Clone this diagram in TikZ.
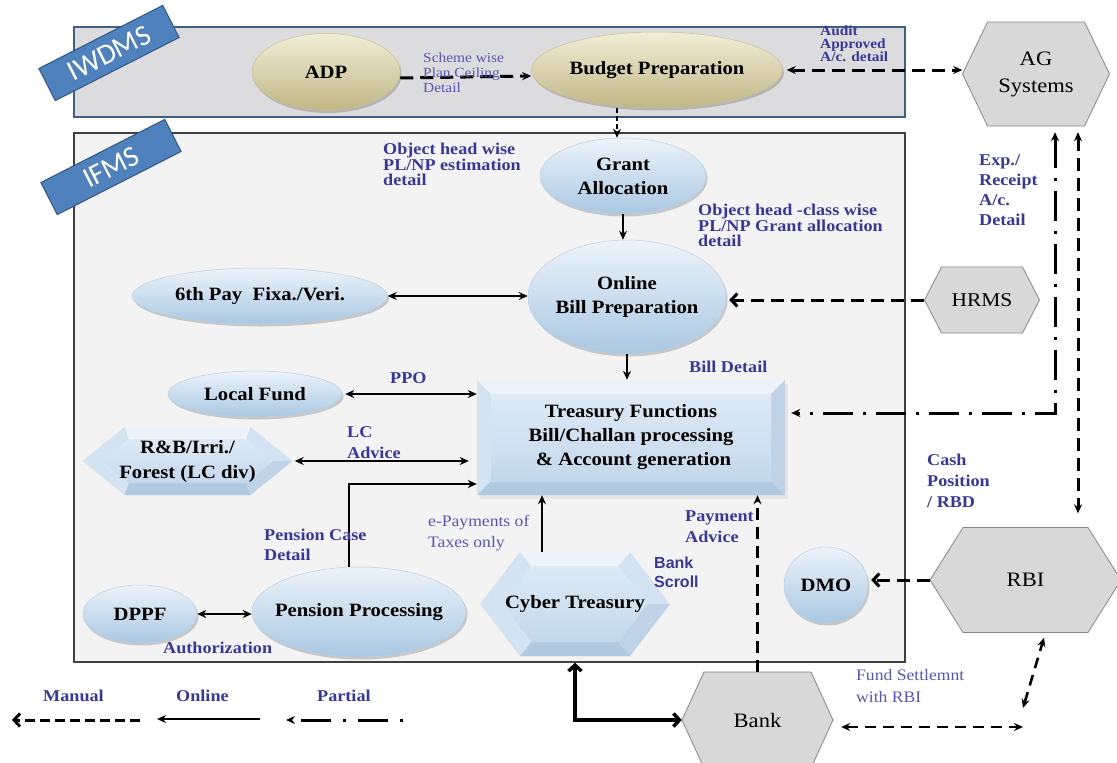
\documentclass[tikz,border=0pt]{standalone}
\usepackage{fontspec}
\setmainfont{Liberation Serif}[FakeStretch=1.1]
\newfontfamily\lsans{Liberation Sans}
\newfontfamily\tagfnt{Carlito}
\usetikzlibrary{arrows.meta,shapes.geometric,shadows}
\setlength{\lineskiplimit}{-20pt}
\definecolor{lblue}{RGB}{58,56,150}
\definecolor{rblue}{RGB}{88,86,180}
\definecolor{hexgray}{RGB}{216,216,216}
\definecolor{hexline}{RGB}{135,135,135}
\definecolor{iwbg}{RGB}{220,220,222}
\definecolor{iwline}{RGB}{62,96,135}
\definecolor{ifbg}{RGB}{243,243,243}
\definecolor{tagblue}{RGB}{79,129,189}
\definecolor{tagline}{RGB}{50,85,130}
\definecolor{eltop}{RGB}{236,243,250}
\definecolor{elmid}{RGB}{212,228,242}
\definecolor{elbot}{RGB}{170,200,226}
\definecolor{elline}{RGB}{185,208,228}
\definecolor{khtop}{RGB}{242,238,214}
\definecolor{khmid}{RGB}{226,219,184}
\definecolor{khbot}{RGB}{192,182,134}
\definecolor{khline}{RGB}{200,192,150}
\definecolor{bvtopc}{RGB}{236,243,250}
\definecolor{bvsidec}{RGB}{212,227,241}
\definecolor{bvrightc}{RGB}{192,211,230}
\definecolor{bvbotc}{RGB}{178,202,225}
\definecolor{bvfacetop}{RGB}{222,234,246}
\definecolor{bvfacebot}{RGB}{196,216,235}
\newcommand\plainhex[5]{%
  \pgfmathsetmacro\hxL{#1-#3/2}\pgfmathsetmacro\hxR{#1+#3/2}%
  \pgfmathsetmacro\hyT{#2-#4/2}\pgfmathsetmacro\hyB{#2+#4/2}%
  \pgfmathsetmacro\hxTL{\hxL+#5}\pgfmathsetmacro\hxTR{\hxR-#5}%
  \draw[hexstyle] (\hxL,#2) -- (\hxTL,\hyT) -- (\hxTR,\hyT) -- (\hxR,#2) -- (\hxTR,\hyB) -- (\hxTL,\hyB) -- cycle;}
\newcommand\bevelhex[6]{%
  \pgfmathsetmacro\hxL{#1-#3/2}\pgfmathsetmacro\hxR{#1+#3/2}%
  \pgfmathsetmacro\hyT{#2-#4/2}\pgfmathsetmacro\hyB{#2+#4/2}%
  \pgfmathsetmacro\hxTL{\hxL+#5}\pgfmathsetmacro\hxTR{\hxR-#5}%
  \pgfmathsetmacro\ip{#5*(#4-2*#6)/#4}%
  \pgfmathsetmacro\ixL{\hxL+1.6*#6}\pgfmathsetmacro\ixR{\hxR-1.6*#6}%
  \pgfmathsetmacro\iyT{\hyT+#6}\pgfmathsetmacro\iyB{\hyB-#6}%
  \pgfmathsetmacro\ixTL{\ixL+\ip}\pgfmathsetmacro\ixTR{\ixR-\ip}%
  \fill[bvsidec] (\hxL,#2) -- (\hxTL,\hyT) -- (\hxTR,\hyT) -- (\hxR,#2) -- (\hxTR,\hyB) -- (\hxTL,\hyB) -- cycle;
  \fill[bvtopc] (\hxTL,\hyT) -- (\hxTR,\hyT) -- (\ixTR,\iyT) -- (\ixTL,\iyT) -- cycle;
  \fill[bvbotc] (\hxTR,\hyB) -- (\hxTL,\hyB) -- (\ixTL,\iyB) -- (\ixTR,\iyB) -- cycle;
  \fill[bvrightc] (\hxR,#2) -- (\hxTR,\hyB) -- (\ixTR,\iyB) -- (\ixR,#2) -- cycle;
  \shade[top color=bvfacetop, bottom color=bvfacebot] (\ixL,#2) -- (\ixTL,\iyT) -- (\ixTR,\iyT) -- (\ixR,#2) -- (\ixTR,\iyB) -- (\ixTL,\iyB) -- cycle;}
\newcommand\bevelrect[5]{%
  \pgfmathsetmacro\hxL{#1-#3/2}\pgfmathsetmacro\hxR{#1+#3/2}%
  \pgfmathsetmacro\hyT{#2-#4/2}\pgfmathsetmacro\hyB{#2+#4/2}%
  \pgfmathsetmacro\ixL{\hxL+#5}\pgfmathsetmacro\ixR{\hxR-#5}%
  \pgfmathsetmacro\iyT{\hyT+#5}\pgfmathsetmacro\iyB{\hyB-#5}%
  \fill[black!20, opacity=.35] (\hxL+3,\hyT+4) rectangle (\hxR+3,\hyB+4);
  \fill[bvsidec] (\hxL,\hyT) rectangle (\hxR,\hyB);
  \fill[bvtopc] (\hxL,\hyT) -- (\hxR,\hyT) -- (\ixR,\iyT) -- (\ixL,\iyT) -- cycle;
  \fill[bvbotc] (\hxL,\hyB) -- (\hxR,\hyB) -- (\ixR,\iyB) -- (\ixL,\iyB) -- cycle;
  \fill[bvrightc] (\hxR,\hyT) -- (\hxR,\hyB) -- (\ixR,\iyB) -- (\ixR,\iyT) -- cycle;
  \shade[top color=bvfacetop, bottom color=bvfacebot] (\ixL,\iyT) rectangle (\ixR,\iyB);}
\begin{document}
\begin{tikzpicture}[x=1pt,y=-1pt,
  hexstyle/.style={fill=hexgray, draw=hexline, line width=0.8pt},
  ntext/.style={font=\bfseries\fontsize{18.8}{24}\selectfont, align=center, inner sep=0pt},
  htext/.style={font=\fontsize{20.5}{27}\selectfont, align=center, inner sep=0pt},
  bell/.style={ntext, ellipse, inner sep=-25pt, draw=elline, line width=0.5pt,
    top color=eltop, middle color=elmid, bottom color=elbot,
    drop shadow={shadow xshift=1.5pt, shadow yshift=-2.5pt, opacity=.18, fill=black}},
  kell/.style={ntext, ellipse, inner sep=-25pt, draw=khline, line width=0.5pt,
    top color=khtop, middle color=khmid, bottom color=khbot,
    drop shadow={shadow xshift=1.5pt, shadow yshift=-2.5pt, opacity=.18, fill=black}},
  tagbox/.style={fill=tagblue, draw=tagline, line width=1pt, minimum width=139pt,
    minimum height=36pt, inner sep=0pt, text=white, font=\tagfnt\fontsize{29}{29}\selectfont},
  lbl/.style={font=\bfseries\fontsize{16.5}{15.5}\selectfont, text=lblue, align=left, inner sep=0pt, anchor=north west},
  rlbl/.style={font=\fontsize{16}{21}\selectfont, text=rblue, align=left, inner sep=0pt, anchor=north west},
  tri/.tip={Stealth[length=9pt,width=8pt]},
  barb/.tip={Straight Barb[length=6pt,width=13pt]},
  solidc/.style={line width=2pt},
  thinc/.style={line width=1.3pt},
  dashedc/.style={line width=3pt, dash pattern=on 13pt off 7pt},
  dashdotc/.style={line width=3pt, dash pattern=on 30pt off 10pt on 3pt off 10pt}]
\useasboundingbox (0,0) rectangle (1117,763);
\fill[white] (0,0) rectangle (1117,763);

% frames
\node[draw=iwline, line width=2.2pt, fill=iwbg, minimum width=831pt, minimum height=90pt, inner sep=0pt] (iwdms) at (489.5,72) {};
\node[draw=black!75, line width=1.5pt, fill=ifbg, minimum width=831pt, minimum height=529pt, inner sep=0pt] (ifms) at (489.5,397.5) {};
\node[tagbox, rotate=27] (iwtag) at (109,53) {IWDMS};
\node[tagbox, rotate=27] (iftag) at (111,167) {IFMS};

% ellipses
\node[kell, minimum width=148pt, minimum height=77pt] (adp) at (326,72) {ADP};
\node[kell, minimum width=251pt, minimum height=76pt] (bp) at (657,70) {Budget Preparation};
\node[bell, minimum width=166pt, minimum height=76pt] (grant) at (623,176) {Grant\\Allocation};
\node[bell, minimum width=198pt, minimum height=114pt] (obp) at (627,297) {Online\\Bill Preparation};
\node[bell, minimum width=255pt, minimum height=56pt] (six) at (260,296) {6th Pay\ \ Fixa./Veri.};
\node[bell, minimum width=174pt, minimum height=46pt] (lf) at (255,394) {Local Fund};
\node[bell, minimum width=114pt, minimum height=58pt] (dppf) at (140,614) {DPPF};
\node[bell, minimum width=214pt, minimum height=90pt] (pp) at (359,612) {Pension Processing};
\node[bell, minimum width=84pt, minimum height=76pt] (dmo) at (826,585) {DMO};

% bevelled shapes
\bevelrect{631}{437.5}{308}{115}{14}
\node[ntext, minimum width=308pt, minimum height=115pt] (tf) at (631,437.5) {Treasury Functions\\Bill/Challan processing\\\ \&~Account generation};
\bevelhex{187.5}{461}{210}{68}{42}{12}
\node[ntext, font=\bfseries\fontsize{18.8}{25}\selectfont, minimum width=210pt, minimum height=68pt] (rb) at (187.5,461) {R\&B/Irri./\\Forest (LC div)};
\bevelhex{575}{604}{190}{104}{40}{14}
\node[ntext, minimum width=190pt, minimum height=104pt] (cy) at (575,604) {Cyber Treasury};

% grey hexagons
\plainhex{1036}{74}{147}{104}{25}
\node[htext, minimum width=147pt, minimum height=104pt] (ag) at (1036,74) {AG\\Systems};
\plainhex{982}{300}{115}{66}{17}
\node[htext, font=\fontsize{19.5}{24}\selectfont, minimum width=115pt, minimum height=66pt] (hrms) at (982,300) {HRMS};
\plainhex{1025.5}{580}{191}{105}{33}
\node[htext, minimum width=191pt, minimum height=105pt] (rbi) at (1025.5,580) {RBI};
\plainhex{757.5}{720}{151}{96}{22}
\node[htext, minimum width=151pt, minimum height=96pt] (bank) at (757.5,720) {Bank};

% connectors
\draw[dashedc, -tri] ([yshift=-6pt]adp.east) -- ([yshift=-6pt]bp.west);
\draw[dashedc, tri-tri] ([xshift=4pt]bp.east) -- (bp.east -| ag.west);
\draw[thinc, dash pattern=on 5pt off 3pt, -tri] ([xshift=-40pt]bp.south) -- ([xshift=-40pt]bp.south |- grant.north);
\draw[thinc, -tri] (grant.south) -- (grant.south |- obp.north);
\draw[solidc, tri-tri] (six.east) -- (six.east -| obp.west);
\draw[dashedc, -barb] (hrms.west) -- ([xshift=3pt]hrms.west -| obp.east);
\draw[thinc, -tri] (obp.south) -- (obp.south |- tf.north);
\draw[solidc, tri-tri] ([xshift=3pt]lf.east) -- (lf.east -| tf.west);
\draw[solidc, tri-tri] ([xshift=2pt]rb.east) -- ([xshift=-8pt]rb.east -| tf.west);
\draw[line width=2.4pt, -tri] ([xshift=-10pt]pp.north) |- ([yshift=-46.5pt]tf.west);
\draw[line width=2.4pt, -tri] ([xshift=-33pt]cy.north) -- ([xshift=-33pt]cy.north |- tf.south);
\draw[line width=2.4pt, dash pattern=on 12pt off 7pt, -tri] (bank.north) -- (bank.north |- tf.south);
\draw[line width=3.5pt, barb-barb] (cy.south |- ifms.south) |- (bank.west);
\draw[dashedc, -barb] (rbi.west) -- ([xshift=3pt]rbi.west -| dmo.east);
\draw[solidc, tri-tri] (dppf.east) -- (dppf.east -| pp.west);
\draw[dashdotc, tri-tri] ([xshift=19pt,yshift=-6pt]ag.south) |- ([xshift=6pt,yshift=24.5pt]tf.east);
\draw[dashedc, tri-tri] ([xshift=42pt,yshift=-6pt]ag.south) -- ([xshift=52.5pt,yshift=14pt]rbi.north);
\coordinate (fsA) at (1023,727);
\coordinate (fsB) at (1023,708);
\draw[line width=2.6pt, dash pattern=on 11pt off 7pt, tri-tri] ([xshift=8pt,yshift=-7pt]bank.east) -- (fsA);
\draw[line width=2.6pt, dash pattern=on 11pt off 7pt, tri-tri] (fsB) -- ([xshift=18.5pt,yshift=-5pt]rbi.south);

% labels
\node[rlbl, font=\fontsize{14}{15}\selectfont] (lscheme) at (423,53) {Scheme wise\\Plan Ceiling\\Detail};
\node[lbl, font=\bfseries\fontsize{14}{13}\selectfont] (laudit) at (820,26) {Audit\\Approved\\A/c. detail};
\node[lbl] (lobj1) at (383,143) {Object head wise\\PL/NP estimation\\detail};
\node[lbl] (lobj2) at (698,204) {Object head -class wise\\PL/NP Grant allocation\\detail};
\node[lbl, font=\bfseries\fontsize{16.5}{20}\selectfont] (lexp) at (979,154) {Exp./\\Receipt\\A/c.\\Detail};
\node[lbl] (lbill) at (689,361) {Bill Detail};
\node[lbl] (lppo) at (390,372) {PPO};
\node[lbl, font=\bfseries\fontsize{16.5}{21}\selectfont] (llc) at (347,426) {LC\\Advice};
\node[lbl, font=\bfseries\fontsize{16.5}{21}\selectfont] (lcash) at (927,454) {Cash\\Position\\/ RBD};
\node[lbl, font=\bfseries\fontsize{16.5}{20}\selectfont] (lpcase) at (264,529) {Pension Case\\Detail};
\node[rlbl] (lepay) at (428,515) {e-Payments of\\Taxes only};
\node[lbl, font=\bfseries\fontsize{16.5}{21}\selectfont] (lpay) at (685,510) {Payment\\Advice};
\node[lbl, font=\lsans\bfseries\fontsize{16}{19}\selectfont] (lscroll) at (654,557) {Bank\\Scroll};
\node[lbl] (lauth) at (163,642) {Authorization};
\node[rlbl, font=\fontsize{16}{22}\selectfont] (lfund) at (856,669) {Fund Settlemnt\\with RBI};

% legend
\node[lbl] (lman) at (43,690) {Manual};
\node[lbl] (lonl) at (176,690) {Online};
\node[lbl] (lpar) at (317,690) {Partial};
\coordinate (m1) at (140,720); \coordinate (m0) at (12,720);
\coordinate (o1) at (260,719); \coordinate (o0) at (157,719);
\coordinate (p1) at (403,720); \coordinate (p0) at (286,720);
\draw[line width=3pt, dash pattern=on 10pt off 5pt, -barb] (m1) -- (m0);
\draw[line width=2.6pt, -tri] (o1) -- (o0);
\draw[line width=3pt, dash pattern=on 3pt off 12pt on 30pt off 12pt, -tri] (p1) -- (p0);
\end{tikzpicture}
\end{document}
